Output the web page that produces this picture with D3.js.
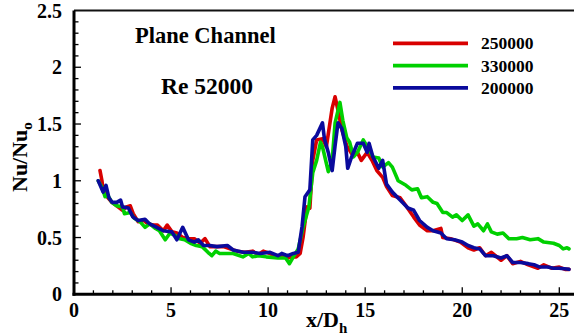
<!DOCTYPE html>
<html><head><meta charset="utf-8">
<script src="https://cdn.jsdelivr.net/npm/d3@7"></script>
<style>
html,body{margin:0;padding:0;background:#fff;}
svg text{font-family:"Times New Roman","Liberation Serif","DejaVu Serif",Times,serif;font-weight:bold;fill:#000;}
</style></head>
<body>
<svg id="chart" width="574" height="336"></svg>
<script>
// ---- data ----
const seriesNames = ["250000", "330000", "200000"];
const seriesColors = ["#d80000", "#00d000", "#0a0a9c"];

const xRed = [1.34,1.44,1.5,1.7,1.95,2.2,2.5,2.7,2.9,3.05,3.3,3.6,3.8,4.1,4.3,4.6,4.8,5.05,5.3,5.6,5.9,6.2,6.5,6.75,7.0,7.36,7.7,8.04,8.4,8.8,9.2,9.5,9.75,10.1,10.4,10.7,11.0,11.3,11.45,11.65,11.8,12.0,12.15,12.3,12.5,12.8,13.0,13.3,13.45,13.6,13.8,14.05,14.3,14.6,14.8,15.1,15.35,15.6,15.9,16.1,16.4,16.8,17.1,17.5,17.8,18.2,18.5,18.9,19.0,19.4,19.9,20.3,20.6,20.9,21.2,21.5,22.0,22.3,22.6,23.0,23.4,23.9,24.2,24.6,25.0,25.3,25.5];
const yRed = [1.09,1.0,0.92,0.86,0.81,0.78,0.74,0.77,0.78,0.71,0.64,0.65,0.62,0.61,0.61,0.56,0.61,0.55,0.54,0.50,0.49,0.49,0.45,0.49,0.42,0.42,0.42,0.40,0.38,0.37,0.38,0.35,0.38,0.36,0.33,0.34,0.32,0.33,0.33,0.36,0.50,0.77,0.76,1.18,1.36,1.37,1.30,1.64,1.74,1.62,1.45,1.31,1.24,1.25,1.18,1.25,1.18,1.09,1.03,0.95,0.87,0.85,0.78,0.68,0.61,0.56,0.56,0.58,0.50,0.49,0.46,0.41,0.39,0.41,0.34,0.37,0.30,0.34,0.27,0.29,0.26,0.23,0.26,0.23,0.24,0.22,0.22];

const xGreen = [1.25,1.45,1.6,1.75,1.95,2.2,2.5,2.6,2.9,3.1,3.4,3.66,3.9,4.2,4.4,4.7,4.95,5.2,5.46,5.7,6.0,6.3,6.6,6.9,7.1,7.3,7.5,7.9,8.2,8.7,9.0,9.2,9.5,9.9,10.5,10.9,11.1,11.3,11.55,11.8,12.1,12.3,12.5,12.7,12.8,13.1,13.3,13.45,13.7,13.85,14.05,14.2,14.4,14.6,14.9,15.15,15.4,15.7,15.9,16.2,16.4,16.7,17.1,17.4,17.7,17.9,18.2,18.5,18.7,19.0,19.2,19.5,19.7,20.0,20.3,20.6,20.8,21.1,21.3,21.5,21.8,22.1,22.4,22.8,23.1,23.5,23.9,24.2,24.7,25.0,25.2,25.4,25.5];
const yGreen = [1.0,0.94,0.86,0.87,0.81,0.78,0.77,0.71,0.72,0.67,0.64,0.59,0.62,0.58,0.56,0.48,0.54,0.52,0.49,0.48,0.45,0.43,0.42,0.37,0.34,0.38,0.36,0.36,0.36,0.33,0.36,0.33,0.34,0.33,0.32,0.32,0.27,0.33,0.40,0.59,0.77,1.07,1.18,1.34,1.30,1.08,1.18,1.51,1.69,1.53,1.38,1.34,1.21,1.25,1.36,1.29,1.21,1.20,1.12,1.16,1.12,1.0,0.96,0.92,0.93,0.85,0.86,0.81,0.80,0.72,0.72,0.68,0.70,0.65,0.70,0.60,0.62,0.56,0.62,0.55,0.53,0.54,0.49,0.49,0.50,0.48,0.49,0.46,0.45,0.43,0.40,0.41,0.40];

const xBlue = [1.25,1.5,1.65,1.8,1.96,2.2,2.4,2.5,2.8,3.04,3.3,3.66,3.9,4.26,4.6,5.04,5.3,5.6,5.9,6.2,6.4,6.67,7.0,7.36,7.9,8.2,8.7,9.2,9.6,10.1,10.5,10.7,11.0,11.3,11.55,11.75,11.9,12.15,12.3,12.5,12.8,12.9,13.1,13.3,13.45,13.6,13.8,14.0,14.1,14.3,14.6,14.9,15.1,15.2,15.4,15.7,15.9,16.1,16.4,16.8,17.2,17.5,17.8,18.2,18.5,18.9,19.2,19.6,20.0,20.3,20.6,20.9,21.2,21.6,22.0,22.3,22.6,23.0,23.4,23.7,24.0,24.4,24.7,25.0,25.5];
const yBlue = [1.0,0.9,0.96,0.85,0.81,0.81,0.83,0.77,0.76,0.68,0.65,0.66,0.62,0.59,0.56,0.55,0.48,0.59,0.48,0.46,0.48,0.43,0.43,0.42,0.43,0.39,0.37,0.37,0.36,0.37,0.34,0.36,0.34,0.36,0.37,0.60,0.86,0.92,1.36,1.40,1.51,1.37,1.25,1.09,1.31,1.51,1.46,1.30,1.11,1.21,1.33,1.33,1.25,1.33,1.21,1.11,1.18,0.97,0.90,0.83,0.76,0.74,0.65,0.59,0.56,0.54,0.49,0.48,0.46,0.43,0.41,0.40,0.34,0.34,0.32,0.34,0.28,0.28,0.27,0.26,0.24,0.24,0.23,0.23,0.22];

const xTicks = [0, 5, 10, 15, 20, 25];
const yTicks = [0, 0.5, 1, 1.5, 2, 2.5];
const yTickLabels = ["0", "0.5", "1", "1.5", "2", "2.5"];

// ---- chart ----
const FONT = '"Times New Roman","Liberation Serif","DejaVu Serif",serif';
const svg = d3.select("#chart");
const mLeft = 74, mTop = 10.5, mBottom = 294.3;
const x = d3.scaleLinear().domain([0, 25]).range([mLeft, 559.3]);
const y = d3.scaleLinear().domain([0, 2.5]).range([mBottom, mTop]);

const seriesX = [xRed, xGreen, xBlue];
const seriesY = [yRed, yGreen, yBlue];

const line = d3.line().x(d => x(d[0])).y(d => y(d[1]));
seriesX.forEach((xs, i) => {
  const pts = xs.map((v, j) => [v, seriesY[i][j]]);
  svg.append("path").datum(pts)
    .attr("d", line)
    .attr("fill", "none")
    .attr("stroke", seriesColors[i])
    .attr("stroke-width", 3.6)
    .attr("stroke-linejoin", "round")
    .attr("stroke-linecap", "round");
});

// top border
svg.append("line").attr("x1", mLeft).attr("x2", 574).attr("y1", mTop).attr("y2", mTop)
  .attr("stroke", "#111").attr("stroke-width", 2);

// x axis
const xAxis = svg.append("g").attr("transform", `translate(0,${mBottom})`);
const xMinor = d3.range(0, 27, 1);
xAxis.selectAll("line.minor").data(xMinor).join("line")
  .attr("x1", d => x(d)).attr("x2", d => x(d))
  .attr("y1", 0).attr("y2", d => (d % 5 === 0 ? -7 : -4))
  .attr("stroke", "#000").attr("stroke-width", 1.3);
xAxis.append("line").attr("x1", mLeft - 1.5).attr("x2", 574).attr("y1", 0).attr("y2", 0)
  .attr("stroke", "#000").attr("stroke-width", 3);
xAxis.selectAll("text").data(xTicks).join("text")
  .attr("x", d => x(d)).attr("y", 23)
  .attr("text-anchor", "middle")
  .attr("font-family", FONT).attr("font-weight", "bold")
  .style("font-size", "20px")
  .text(d => d);

// y axis
const yAxis = svg.append("g").attr("transform", `translate(${mLeft},0)`);
const yMinor = d3.range(0, 25, 1).map(d => d / 10);
yAxis.selectAll("line.minor").data(yMinor).join("line")
  .attr("x1", 0).attr("x2", d => (Math.round(d * 10) % 5 === 0 ? 7 : 4.5))
  .attr("y1", d => y(d)).attr("y2", d => y(d))
  .attr("stroke", "#000").attr("stroke-width", 1.3);
yAxis.append("line").attr("x1", 0).attr("x2", 0).attr("y1", mTop).attr("y2", mBottom + 1.5)
  .attr("stroke", "#000").attr("stroke-width", 3);
yAxis.selectAll("text").data(yTicks).join("text")
  .attr("x", -12).attr("y", d => y(d)).attr("dy", "0.35em")
  .attr("text-anchor", "end")
  .attr("font-family", FONT).attr("font-weight", "bold")
  .style("font-size", "20px")
  .text((d, i) => yTickLabels[i]);

// axis titles
const yl = svg.append("text").attr("transform", "translate(27,192) rotate(-90)")
  .attr("font-family", FONT).attr("font-weight", "bold")
  .style("font-size", "22px");
yl.append("tspan").text("Nu/Nu");
yl.append("tspan").attr("dy", 5).style("font-size", "15px").text("o");

const xl = svg.append("text").attr("x", 306).attr("y", 327)
  .attr("font-family", FONT).attr("font-weight", "bold")
  .style("font-size", "22px");
xl.append("tspan").text("x/D");
xl.append("tspan").attr("dy", 6).style("font-size", "15px").text("h");

// annotations
svg.append("text").attr("x", 135).attr("y", 43)
  .attr("font-family", FONT).attr("font-weight", "bold")
  .style("font-size", "22.5px").text("Plane Channel");
svg.append("text").attr("x", 161).attr("y", 94)
  .attr("font-family", FONT).attr("font-weight", "bold")
  .style("font-size", "23.5px").text("Re 52000");

// legend
const leg = svg.append("g");
seriesNames.forEach((name, i) => {
  const ly = 43.3 + i * 22.3;
  leg.append("line").attr("x1", 393).attr("x2", 468).attr("y1", ly).attr("y2", ly)
    .attr("stroke", seriesColors[i]).attr("stroke-width", 3.8);
  leg.append("text").attr("x", 481).attr("y", ly).attr("dy", "0.35em")
    .attr("font-family", FONT).attr("font-weight", "bold")
    .style("font-size", "17.5px").text(name);
});
</script>
</body></html>
